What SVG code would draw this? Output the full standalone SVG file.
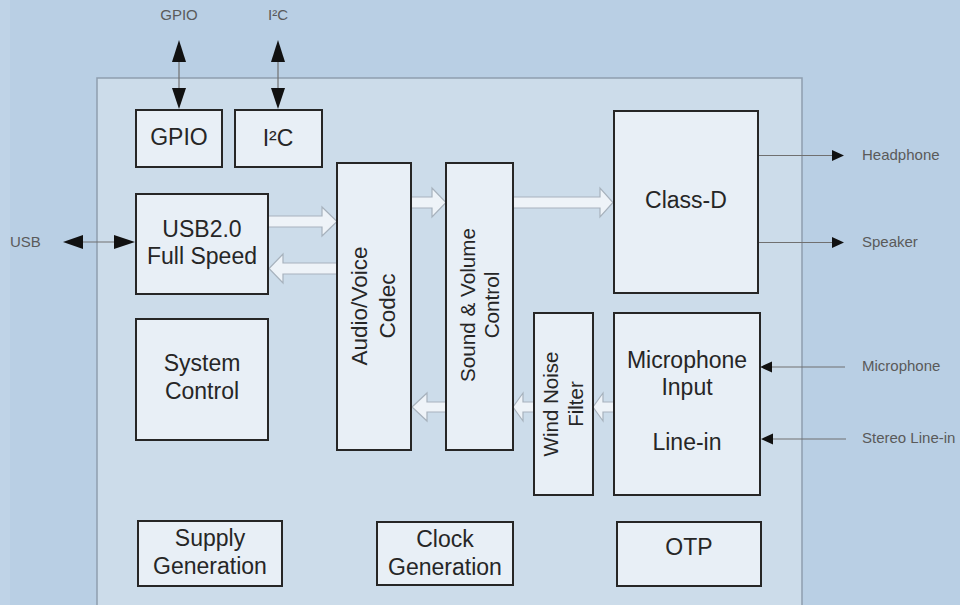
<svg xmlns="http://www.w3.org/2000/svg" width="960" height="605" viewBox="0 0 960 605">
<style>
.blk{fill:#e8eff6;stroke:#262626;stroke-width:2}
.t{font-family:"Liberation Sans",Arial,sans-serif;font-size:23px;fill:#262626;text-anchor:middle}
.tr{font-family:"Liberation Sans",Arial,sans-serif;font-size:20.7px;fill:#262626;text-anchor:middle}
.lbl{font-family:"Liberation Sans",Arial,sans-serif;font-size:15px;fill:#5a5a5a}
.bus{fill:#eef3f8;stroke:#a7b2bd;stroke-width:1.2}
.ln{stroke:#707070;stroke-width:1.2;fill:none}
.hd{fill:#111}
</style>
<rect x="0" y="0" width="960" height="605" fill="#b9cfe4"/>
<rect x="0" y="0" width="10" height="605" fill="#bfd3e7"/>
<rect id="panel" x="97" y="78" width="705" height="540" fill="#ccdcea" stroke="#8e9eae" stroke-width="1.5"/>

<g id="connectors">
  <!-- hollow bus arrows -->
  <path class="bus" d="M268,216 H322 V207 L337,221.5 L322,236 V227 H268 Z"/>
  <path class="bus" d="M337,263 H283 V254 L269,268.5 L283,283 V274 H337 Z"/>
  <path class="bus" d="M411,197 H432 V188 L446,202.5 L432,217 V208 H411 Z"/>
  <path class="bus" d="M513,197 H600 V188 L613,202.5 L600,217 V208 H513 Z"/>
  <path class="bus" d="M446,402 H427 V393 L412,407 L427,421 V412 H446 Z"/>
  <path class="bus" d="M534,402 H523 V393 L513,407 L523,421 V412 H534 Z"/>
  <path class="bus" d="M614,402 H603 V393 L593,407 L603,421 V412 H614 Z"/>
  <!-- thin signal lines -->
  <line class="ln" x1="179" y1="50" x2="179" y2="100"/>
  <polygon class="hd" points="179,40 172,62 186,62"/>
  <polygon class="hd" points="172,88 186,88 179,109"/>
  <line class="ln" x1="278" y1="50" x2="278" y2="100"/>
  <polygon class="hd" points="278,40 271,62 285,62"/>
  <polygon class="hd" points="271,88 285,88 278,109"/>
  <line class="ln" x1="70" y1="242" x2="128" y2="242"/>
  <polygon class="hd" points="63,242 83,235 83,249"/>
  <polygon class="hd" points="114,235 114,249 135,242"/>
  <line class="ln" x1="758" y1="155.5" x2="836" y2="155.5"/>
  <polygon class="hd" points="832,150 832,161 844,155.5"/>
  <line class="ln" x1="758" y1="242.5" x2="836" y2="242.5"/>
  <polygon class="hd" points="832,237 832,248 844,242.5"/>
  <line class="ln" x1="766" y1="367" x2="845" y2="367"/>
  <polygon class="hd" points="760,367 772,361.5 772,372.5"/>
  <line class="ln" x1="767" y1="439" x2="846" y2="439"/>
  <polygon class="hd" points="761,439 773,433.5 773,444.5"/>
</g>

<g id="labels">
  <text class="lbl" x="179" y="20" text-anchor="middle">GPIO</text>
  <text class="lbl" x="278" y="20" text-anchor="middle">I²C</text>
  <text class="lbl" x="10" y="247">USB</text>
  <text class="lbl" x="862" y="160">Headphone</text>
  <text class="lbl" x="862" y="247">Speaker</text>
  <text class="lbl" x="862" y="371">Microphone</text>
  <text class="lbl" x="862" y="443">Stereo Line-in</text>
</g>

<g id="gpio"><rect class="blk" x="136" y="110" width="86" height="57"/><text class="t" x="179" y="145">GPIO</text></g>
<g id="i2c"><rect class="blk" x="235" y="110" width="87" height="57"/><text class="t" x="278" y="146">I²C</text></g>
<g id="usb"><rect class="blk" x="136" y="194" width="132" height="100"/><text class="t" x="202" y="237">USB2.0</text><text class="t" x="202" y="264">Full Speed</text></g>
<g id="sysctl"><rect class="blk" x="136" y="319" width="132" height="121"/><text class="t" x="202" y="371">System</text><text class="t" x="202" y="399">Control</text></g>
<g id="supply"><rect class="blk" x="138" y="521" width="144" height="65"/><text class="t" x="210" y="546">Supply</text><text class="t" x="210" y="574">Generation</text></g>
<g id="codec"><rect class="blk" x="337" y="163" width="74" height="287"/><text class="tr" style="font-size:22.5px" transform="translate(367,306) rotate(-90)">Audio/Voice</text><text class="tr" style="font-size:22.5px" transform="translate(395,306) rotate(-90)">Codec</text></g>
<g id="sound"><rect class="blk" x="446" y="163" width="67" height="287"/><text class="tr" transform="translate(475,305) rotate(-90)">Sound &amp; Volume</text><text class="tr" transform="translate(499,305) rotate(-90)">Control</text></g>
<g id="wind"><rect class="blk" x="534" y="313" width="59" height="182"/><text class="tr" style="font-size:20.5px" transform="translate(558,404) rotate(-90)">Wind Noise</text><text class="tr" style="font-size:20.5px" transform="translate(583,404) rotate(-90)">Filter</text></g>
<g id="classd"><rect class="blk" x="614" y="111" width="144" height="182"/><text class="t" x="686" y="208">Class-D</text></g>
<g id="mic"><rect class="blk" x="614" y="313" width="146" height="182"/><text class="t" x="687" y="368">Microphone</text><text class="t" x="687" y="395">Input</text><text class="t" x="687" y="450">Line-in</text></g>
<g id="clock"><rect class="blk" x="377" y="522" width="136" height="63"/><text class="t" x="445" y="547">Clock</text><text class="t" x="445" y="575">Generation</text></g>
<g id="otp"><rect class="blk" x="617" y="522" width="144" height="64"/><text class="t" x="689" y="555">OTP</text></g>
</svg>
